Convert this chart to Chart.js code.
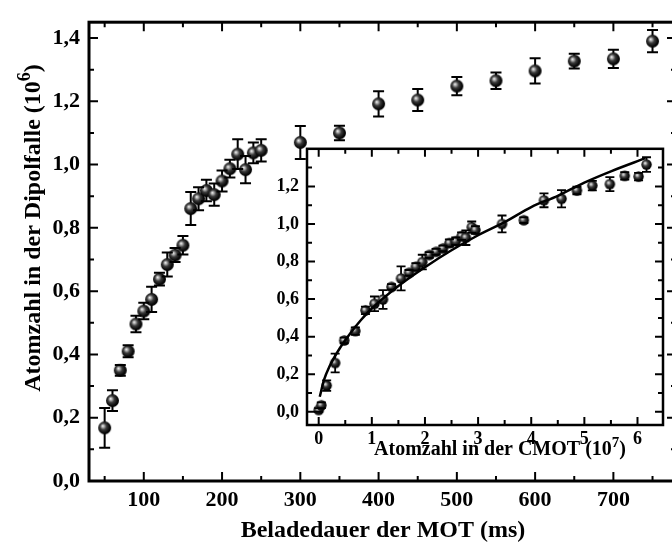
<!DOCTYPE html>
<html>
<head>
<meta charset="utf-8">
<script src="https://cdn.jsdelivr.net/npm/chart.js@4.4.1/dist/chart.umd.min.js"></script>
<style>
  html, body { margin: 0; padding: 0; background: #fff; }
  #wrap { position: relative; width: 672px; height: 550px; overflow: hidden; }
  #main { position: absolute; left: 0; top: 0; }
  #inset { position: absolute; left: 265px; top: 130px; }
</style>
</head>
<body>
<div id="wrap">
  <canvas id="main" width="690" height="550"></canvas>
  <canvas id="inset" width="407" height="335"></canvas>
</div>
<script>
// MOT loading time (ms) vs. atoms loaded into the dipole trap (10^6)
const loadTime = [50, 60, 70, 80, 90, 100, 110, 120, 130, 140, 150, 160, 170, 180, 190, 200, 210, 220, 230, 240, 250,
  300, 350, 400, 450, 500, 550, 600, 650, 700, 750];
const dipoleAtoms = [0.168, 0.254, 0.350, 0.410, 0.496, 0.537, 0.574, 0.638, 0.684, 0.714, 0.745, 0.861, 0.892, 0.918,
  0.905, 0.948, 0.987, 1.033, 0.984, 1.037, 1.045, 1.070, 1.100, 1.192, 1.204, 1.248, 1.265, 1.296, 1.327, 1.334, 1.390];
const dipoleErr = [0.063, 0.033, 0.017, 0.019, 0.026, 0.026, 0.040, 0.020, 0.038, 0.022, 0.029, 0.052, 0.036, 0.034,
  0.035, 0.033, 0.028, 0.047, 0.043, 0.033, 0.035, 0.052, 0.023, 0.040, 0.035, 0.029, 0.026, 0.040, 0.023, 0.029, 0.035];

// inset: atoms in the CMOT (10^7) vs. atoms in the dipole trap (10^6)
const cmotAtoms = [0.0, 0.05, 0.15, 0.31, 0.48, 0.69, 0.88, 1.05, 1.21, 1.37, 1.55, 1.70, 1.83, 1.95, 2.08, 2.21, 2.34,
  2.46, 2.58, 2.69, 2.77, 2.88, 2.95, 3.45, 3.86, 4.24, 4.57, 4.86, 5.15, 5.48, 5.76, 6.02, 6.17];
const insetAtoms = [0.01, 0.035, 0.14, 0.26, 0.38, 0.43, 0.54, 0.575, 0.598, 0.665, 0.71, 0.74, 0.772, 0.797, 0.835,
  0.852, 0.87, 0.898, 0.908, 0.935, 0.927, 0.983, 0.968, 1.0, 1.02, 1.126, 1.134, 1.178, 1.204, 1.212, 1.256, 1.252, 1.316];
const insetErr = [0.01, 0.015, 0.028, 0.05, 0.015, 0.02, 0.02, 0.039, 0.05, 0.015, 0.064, 0.015, 0.02, 0.039, 0.015,
  0.015, 0.015, 0.02, 0.02, 0.02, 0.039, 0.03, 0.02, 0.045, 0.015, 0.037, 0.046, 0.02, 0.025, 0.037, 0.02, 0.02, 0.039];

// fit curve through the inset data
const fitX = [0.02, 0.1, 0.2, 0.4, 0.6, 0.8, 1.0, 1.5, 2.0, 2.5, 3.0, 3.5, 4.0, 4.5, 5.0, 5.5, 6.15];
const fitY = [0.08, 0.17, 0.24, 0.34, 0.42, 0.49, 0.55, 0.67, 0.77, 0.86, 0.94, 1.01, 1.09, 1.15, 1.22, 1.28, 1.35];

// tick labels
const mainXTicks = [100, 200, 300, 400, 500, 600, 700];
const mainYTicks = [0, 0.2, 0.4, 0.6, 0.8, 1.0, 1.2, 1.4];
const insetXTicks = [0, 1, 2, 3, 4, 5, 6];
const insetYTicks = [0, 0.2, 0.4, 0.6, 0.8, 1.0, 1.2];

const SERIF = "'Liberation Serif', 'Times New Roman', serif";
const comma = v => v.toFixed(1).replace('.', ',');

// shaded ball used as marker
function sphere(r) {
  const c = document.createElement('canvas');
  const s = Math.ceil(2 * r) + 2;
  c.width = c.height = s;
  const g = c.getContext('2d');
  const m = s / 2;
  const grad = g.createRadialGradient(m - 0.3 * r, m - 0.3 * r, 0, m - 0.1 * r, m - 0.1 * r, r * 1.1);
  grad.addColorStop(0, '#f6f6f6');
  grad.addColorStop(0.18, '#b4b4b4');
  grad.addColorStop(0.45, '#3c3c3c');
  grad.addColorStop(0.8, '#0c0c0c');
  grad.addColorStop(1, '#000');
  g.fillStyle = grad;
  g.beginPath();
  g.arc(m, m, r, 0, Math.PI * 2);
  g.fill();
  return c;
}

// stems under the markers, caps on top
function drawErrors(chart, part) {
  const { ctx, scales: { x, y } } = chart;
  chart.data.datasets.forEach(ds => {
    if (!ds.errors) return;
    ctx.save();
    ctx.strokeStyle = '#000';
    ctx.lineWidth = ds.errLineWidth;
    ctx.beginPath();
    ds.data.forEach((p, i) => {
      const px = x.getPixelForValue(p.x);
      const top = y.getPixelForValue(p.y + ds.errors[i]);
      const bot = y.getPixelForValue(p.y - ds.errors[i]);
      const w = ds.capHalf;
      if (part === 'stem') {
        ctx.moveTo(px, top);
        ctx.lineTo(px, bot);
      } else {
        ctx.moveTo(px - w, top);
        ctx.lineTo(px + w, top);
        ctx.moveTo(px - w, bot);
        ctx.lineTo(px + w, bot);
      }
    });
    ctx.stroke();
    ctx.restore();
  });
}
const errorBars = {
  id: 'errorBars',
  beforeDatasetsDraw(chart) { drawErrors(chart, 'stem'); },
  afterDatasetsDraw(chart) { drawErrors(chart, 'caps'); }
};

function minorsOf(majors, min, max) {
  const step = majors[1] - majors[0];
  const out = [];
  for (let v = majors[0] - step / 2; v <= max; v += step) {
    if (v >= min) out.push(v);
  }
  return out;
}

// closed frame with inward ticks on all four sides
const frameTicks = {
  id: 'frameTicks',
  afterDraw(chart, args, o) {
    const { ctx, chartArea: a, scales: { x, y } } = chart;
    ctx.save();
    ctx.strokeStyle = '#000';
    ctx.lineWidth = o.tickWidth;
    ctx.beginPath();
    const xs = [[o.xMajor, o.major], [minorsOf(o.xMajor, x.min, x.max), o.minor]];
    const ys = [[o.yMajor, o.major], [minorsOf(o.yMajor, y.min, y.max), o.minor]];
    xs.forEach(([vals, len]) => vals.forEach(v => {
      const px = x.getPixelForValue(v);
      ctx.moveTo(px, a.bottom); ctx.lineTo(px, a.bottom - len);
      ctx.moveTo(px, a.top); ctx.lineTo(px, a.top + len);
    }));
    ys.forEach(([vals, len]) => vals.forEach(v => {
      const py = y.getPixelForValue(v);
      ctx.moveTo(a.left, py); ctx.lineTo(a.left + len, py);
      ctx.moveTo(a.right, py); ctx.lineTo(a.right - len, py);
    }));
    ctx.stroke();
    ctx.lineWidth = o.frameWidth;
    ctx.strokeRect(a.left, a.top, a.right - a.left, a.bottom - a.top);
    ctx.restore();
  }
};

// axis titles with a raised exponent
function supText(ctx, t) {
  const parts = [
    { s: t.text, size: t.size, rise: 0 },
    { s: t.exp, size: t.size * 0.75, rise: t.size * 0.42 },
    { s: ')', size: t.size, rise: 0 }
  ];
  let total = 0;
  parts.forEach(p => {
    ctx.font = `bold ${p.size}px ${SERIF}`;
    p.w = ctx.measureText(p.s).width;
    total += p.w;
  });
  ctx.save();
  ctx.translate(t.x, t.y);
  if (t.rotate) ctx.rotate(-Math.PI / 2);
  ctx.fillStyle = '#000';
  ctx.textBaseline = 'alphabetic';
  ctx.textAlign = 'left';
  let cx = -total / 2;
  parts.forEach(p => {
    ctx.font = `bold ${p.size}px ${SERIF}`;
    ctx.fillText(p.s, cx, -p.rise);
    cx += p.w;
  });
  ctx.restore();
}
const axisTitles = {
  id: 'axisTitles',
  afterDraw(chart, args, o) {
    const { ctx } = chart;
    o.items.forEach(t => {
      if (t.exp) {
        supText(ctx, t);
      } else {
        ctx.save();
        ctx.font = `bold ${t.size}px ${SERIF}`;
        ctx.fillStyle = '#000';
        ctx.textAlign = 'center';
        ctx.textBaseline = 'alphabetic';
        ctx.fillText(t.text, t.x, t.y);
        ctx.restore();
      }
    });
  }
};

function axis(min, max, ticks, fmt, size, pad, fit) {
  return {
    type: 'linear',
    min, max,
    grid: { display: false, drawTicks: false },
    border: { display: false },
    afterBuildTicks: s => { s.ticks = ticks.map(v => ({ value: v })); },
    afterFit: fit,
    ticks: {
      autoSkip: false,
      maxRotation: 0,
      padding: pad,
      color: '#000',
      font: { family: SERIF, size, weight: 'bold' },
      callback: fmt
    }
  };
}

new Chart(document.getElementById('main'), {
  type: 'scatter',
  data: {
    datasets: [{
      data: loadTime.map((t, i) => ({ x: t, y: dipoleAtoms[i] })),
      errors: dipoleErr,
      errLineWidth: 2,
      capHalf: 5.5,
      pointStyle: sphere(6.5),
      pointRadius: 6.5,
      pointHoverRadius: 6.5
    }]
  },
  options: {
    responsive: false,
    animation: false,
    devicePixelRatio: 1,
    layout: { padding: { top: 6, right: 14, left: 0, bottom: 0 } },
    plugins: {
      legend: { display: false },
      tooltip: { enabled: false },
      frameTicks: { xMajor: mainXTicks, yMajor: mainYTicks, major: 9, minor: 5, tickWidth: 2, frameWidth: 3 },
      axisTitles: {
        items: [
          { text: 'Beladedauer der MOT (ms)', size: 24, x: 383, y: 537 },
          { text: 'Atomzahl in der Dipolfalle (10', exp: '6', size: 24, x: 40, y: 228, rotate: true }
        ]
      }
    },
    scales: {
      x: axis(30, 780, mainXTicks, v => String(v), 22, 6, s => { s.height = 69; }),
      y: axis(0, 1.45, mainYTicks, comma, 22, 9, s => { s.width = 89; })
    }
  },
  plugins: [errorBars, frameTicks, axisTitles]
});

const whiteArea = {
  id: 'whiteArea',
  beforeDraw(chart) {
    const { ctx, chartArea: a } = chart;
    ctx.save();
    ctx.fillStyle = '#fff';
    ctx.fillRect(a.left, a.top, a.right - a.left, a.bottom - a.top);
    ctx.restore();
  }
};

new Chart(document.getElementById('inset'), {
  type: 'scatter',
  data: {
    datasets: [{
      type: 'line',
      data: fitX.map((v, i) => ({ x: v, y: fitY[i] })),
      borderColor: '#000',
      borderWidth: 2.5,
      pointRadius: 0,
      fill: false,
      cubicInterpolationMode: 'monotone'
    }, {
      data: cmotAtoms.map((v, i) => ({ x: v, y: insetAtoms[i] })),
      errors: insetErr,
      errLineWidth: 1.8,
      capHalf: 4.5,
      pointStyle: sphere(5.2),
      pointRadius: 5.2,
      pointHoverRadius: 5.2
    }]
  },
  options: {
    responsive: false,
    animation: false,
    devicePixelRatio: 1,
    layout: { padding: { top: 12, right: 9, left: 0, bottom: 0 } },
    plugins: {
      legend: { display: false },
      tooltip: { enabled: false },
      frameTicks: { xMajor: insetXTicks, yMajor: insetYTicks, major: 8, minor: 5, tickWidth: 2, frameWidth: 2.5 },
      axisTitles: {
        items: [
          { text: 'Atomzahl in der CMOT (10', exp: '7', size: 20, x: 235, y: 325 }
        ]
      }
    },
    scales: {
      x: axis(-0.22, 6.48, insetXTicks, v => String(v), 18, 4, s => { s.height = 40; }),
      y: axis(-0.07, 1.40, insetYTicks, comma, 18, 8, s => { s.width = 42; })
    }
  },
  plugins: [whiteArea, errorBars, frameTicks, axisTitles]
});
</script>
</body>
</html>
